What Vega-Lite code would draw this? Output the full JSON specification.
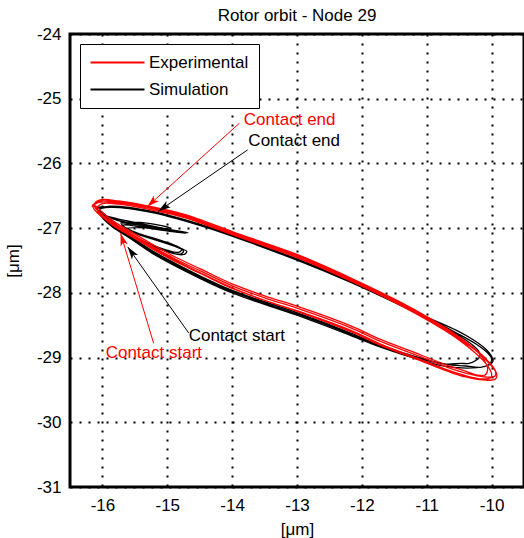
{
 "$schema": "https://vega.github.io/schema/vega-lite/v6.json",
 "width": 454, "height": 453,
 "autosize": {"type": "none"},
 "padding": {"left": 70, "top": 34, "right": 0, "bottom": 51},
 "background": "white",
 "title": {"text": "Rotor orbit - Node 29", "fontSize": 17, "fontWeight": "normal", "font": "Liberation Sans", "color": "black", "offset": 0},
 "config": {
   "font": "Liberation Sans",
   "view": {"stroke": "black", "strokeWidth": 3},
   "axis": {"grid": true, "gridColor": "black", "gridDash": [2, 7], "gridWidth": 2, "gridOpacity": 1, "gridCap": "butt", "domain": false, "ticks": false, "tickSize": 0, "labelFontSize": 17, "labelColor": "black", "titleFontSize": 17, "titleFontWeight": "normal", "titleColor": "black", "labelFont": "Liberation Sans", "titleFont": "Liberation Sans", "labelExpr": "'' + datum.value"}
 },
 "datasets": {
  "orbit": [
   {"s":"Experimental","i":0,"x":-16.15,"y":-26.64},{"s":"Experimental","i":1,"x":-16.03,"y":-26.58},{"s":"Experimental","i":2,"x":-15.75,"y":-26.60},{"s":"Experimental","i":3,"x":-15.23,"y":-26.69},{"s":"Experimental","i":4,"x":-14.72,"y":-26.81},{"s":"Experimental","i":5,"x":-14.49,"y":-26.89},{"s":"Experimental","i":6,"x":-13.98,"y":-27.08},{"s":"Experimental","i":7,"x":-13.49,"y":-27.25},{"s":"Experimental","i":8,"x":-12.99,"y":-27.43},{"s":"Experimental","i":9,"x":-12.17,"y":-27.79},{"s":"Experimental","i":10,"x":-11.45,"y":-28.14},{"s":"Experimental","i":11,"x":-10.94,"y":-28.42},{"s":"Experimental","i":12,"x":-10.54,"y":-28.67},{"s":"Experimental","i":13,"x":-10.24,"y":-28.88},{"s":"Experimental","i":14,"x":-10.04,"y":-29.07},{"s":"Experimental","i":15,"x":-9.94,"y":-29.21},{"s":"Experimental","i":16,"x":-9.95,"y":-29.29},{"s":"Experimental","i":17,"x":-10.09,"y":-29.30},{"s":"Experimental","i":18,"x":-10.40,"y":-29.24},{"s":"Experimental","i":19,"x":-10.68,"y":-29.15},{"s":"Experimental","i":20,"x":-11.09,"y":-28.99},{"s":"Experimental","i":21,"x":-11.71,"y":-28.75},{"s":"Experimental","i":22,"x":-12.17,"y":-28.54},{"s":"Experimental","i":23,"x":-12.99,"y":-28.24},{"s":"Experimental","i":24,"x":-13.49,"y":-28.08},{"s":"Experimental","i":25,"x":-13.98,"y":-27.90},{"s":"Experimental","i":26,"x":-14.49,"y":-27.66},{"s":"Experimental","i":27,"x":-14.87,"y":-27.48},{"s":"Experimental","i":28,"x":-15.23,"y":-27.28},{"s":"Experimental","i":29,"x":-15.57,"y":-27.08},{"s":"Experimental","i":30,"x":-15.85,"y":-26.91},{"s":"Experimental","i":31,"x":-16.03,"y":-26.77},{"s":"Experimental","i":32,"x":-16.12,"y":-26.67},
   {"s":"Experimental","i":33,"x":-16.10,"y":-26.68},{"s":"Experimental","i":34,"x":-16.00,"y":-26.62},{"s":"Experimental","i":35,"x":-15.75,"y":-26.63},{"s":"Experimental","i":36,"x":-15.23,"y":-26.72},{"s":"Experimental","i":37,"x":-14.72,"y":-26.84},{"s":"Experimental","i":38,"x":-14.49,"y":-26.92},{"s":"Experimental","i":39,"x":-13.98,"y":-27.11},{"s":"Experimental","i":40,"x":-13.49,"y":-27.28},{"s":"Experimental","i":41,"x":-12.99,"y":-27.46},{"s":"Experimental","i":42,"x":-12.17,"y":-27.82},{"s":"Experimental","i":43,"x":-11.45,"y":-28.17},{"s":"Experimental","i":44,"x":-10.94,"y":-28.45},{"s":"Experimental","i":45,"x":-10.54,"y":-28.70},{"s":"Experimental","i":46,"x":-10.26,"y":-28.92},{"s":"Experimental","i":47,"x":-10.08,"y":-29.10},{"s":"Experimental","i":48,"x":-10.00,"y":-29.25},{"s":"Experimental","i":49,"x":-10.01,"y":-29.31},{"s":"Experimental","i":50,"x":-10.15,"y":-29.33},{"s":"Experimental","i":51,"x":-10.40,"y":-29.28},{"s":"Experimental","i":52,"x":-10.68,"y":-29.19},{"s":"Experimental","i":53,"x":-11.09,"y":-29.03},{"s":"Experimental","i":54,"x":-11.71,"y":-28.79},{"s":"Experimental","i":55,"x":-12.17,"y":-28.58},{"s":"Experimental","i":56,"x":-12.99,"y":-28.28},{"s":"Experimental","i":57,"x":-13.49,"y":-28.12},{"s":"Experimental","i":58,"x":-13.98,"y":-27.94},{"s":"Experimental","i":59,"x":-14.49,"y":-27.70},{"s":"Experimental","i":60,"x":-14.87,"y":-27.52},{"s":"Experimental","i":61,"x":-15.23,"y":-27.32},{"s":"Experimental","i":62,"x":-15.57,"y":-27.12},{"s":"Experimental","i":63,"x":-15.85,"y":-26.95},{"s":"Experimental","i":64,"x":-16.02,"y":-26.80},{"s":"Experimental","i":65,"x":-16.09,"y":-26.71},
   {"s":"Experimental","i":66,"x":-16.12,"y":-26.62},{"s":"Experimental","i":67,"x":-16.02,"y":-26.56},{"s":"Experimental","i":68,"x":-15.75,"y":-26.58},{"s":"Experimental","i":69,"x":-15.23,"y":-26.67},{"s":"Experimental","i":70,"x":-14.72,"y":-26.79},{"s":"Experimental","i":71,"x":-14.49,"y":-26.87},{"s":"Experimental","i":72,"x":-13.98,"y":-27.06},{"s":"Experimental","i":73,"x":-13.49,"y":-27.23},{"s":"Experimental","i":74,"x":-12.99,"y":-27.41},{"s":"Experimental","i":75,"x":-12.17,"y":-27.77},{"s":"Experimental","i":76,"x":-11.45,"y":-28.12},{"s":"Experimental","i":77,"x":-10.94,"y":-28.40},{"s":"Experimental","i":78,"x":-10.54,"y":-28.65},{"s":"Experimental","i":79,"x":-10.28,"y":-28.85},{"s":"Experimental","i":80,"x":-10.12,"y":-29.03},{"s":"Experimental","i":81,"x":-10.06,"y":-29.18},{"s":"Experimental","i":82,"x":-10.10,"y":-29.27},{"s":"Experimental","i":83,"x":-10.22,"y":-29.27},{"s":"Experimental","i":84,"x":-10.40,"y":-29.21},{"s":"Experimental","i":85,"x":-10.68,"y":-29.12},{"s":"Experimental","i":86,"x":-11.09,"y":-28.96},{"s":"Experimental","i":87,"x":-11.71,"y":-28.72},{"s":"Experimental","i":88,"x":-12.17,"y":-28.51},{"s":"Experimental","i":89,"x":-12.99,"y":-28.21},{"s":"Experimental","i":90,"x":-13.49,"y":-28.05},{"s":"Experimental","i":91,"x":-13.98,"y":-27.87},{"s":"Experimental","i":92,"x":-14.49,"y":-27.63},{"s":"Experimental","i":93,"x":-14.87,"y":-27.45},{"s":"Experimental","i":94,"x":-15.23,"y":-27.25},{"s":"Experimental","i":95,"x":-15.57,"y":-27.05},{"s":"Experimental","i":96,"x":-15.85,"y":-26.88},{"s":"Experimental","i":97,"x":-16.02,"y":-26.74},{"s":"Experimental","i":98,"x":-16.10,"y":-26.66},
   {"s":"Experimental","i":99,"x":-16.16,"y":-26.66},{"s":"Experimental","i":100,"x":-16.05,"y":-26.60},{"s":"Experimental","i":101,"x":-15.75,"y":-26.61},{"s":"Experimental","i":102,"x":-15.23,"y":-26.70},{"s":"Experimental","i":103,"x":-14.72,"y":-26.83},{"s":"Experimental","i":104,"x":-14.49,"y":-26.91},{"s":"Experimental","i":105,"x":-13.98,"y":-27.09},{"s":"Experimental","i":106,"x":-13.49,"y":-27.27},{"s":"Experimental","i":107,"x":-12.99,"y":-27.45},{"s":"Experimental","i":108,"x":-12.17,"y":-27.80},{"s":"Experimental","i":109,"x":-11.45,"y":-28.16},{"s":"Experimental","i":110,"x":-10.94,"y":-28.44},{"s":"Experimental","i":111,"x":-10.54,"y":-28.69},{"s":"Experimental","i":112,"x":-10.22,"y":-28.91},{"s":"Experimental","i":113,"x":-10.02,"y":-29.11},{"s":"Experimental","i":114,"x":-9.92,"y":-29.25},{"s":"Experimental","i":115,"x":-9.94,"y":-29.33},{"s":"Experimental","i":116,"x":-10.08,"y":-29.35},{"s":"Experimental","i":117,"x":-10.40,"y":-29.30},{"s":"Experimental","i":118,"x":-10.68,"y":-29.21},{"s":"Experimental","i":119,"x":-11.09,"y":-29.05},{"s":"Experimental","i":120,"x":-11.71,"y":-28.81},{"s":"Experimental","i":121,"x":-12.17,"y":-28.60},{"s":"Experimental","i":122,"x":-12.99,"y":-28.29},{"s":"Experimental","i":123,"x":-13.49,"y":-28.12},{"s":"Experimental","i":124,"x":-13.98,"y":-27.93},{"s":"Experimental","i":125,"x":-14.49,"y":-27.69},{"s":"Experimental","i":126,"x":-14.87,"y":-27.50},{"s":"Experimental","i":127,"x":-15.23,"y":-27.30},{"s":"Experimental","i":128,"x":-15.57,"y":-27.10},{"s":"Experimental","i":129,"x":-15.85,"y":-26.93},{"s":"Experimental","i":130,"x":-16.05,"y":-26.79},{"s":"Experimental","i":131,"x":-16.14,"y":-26.69},{"s":"Experimental","i":132,"x":-16.15,"y":-26.64},
   {"s":"Simulation","i":0,"x":-16.08,"y":-26.70},{"s":"Simulation","i":1,"x":-15.88,"y":-26.66},{"s":"Simulation","i":2,"x":-15.23,"y":-26.74},{"s":"Simulation","i":3,"x":-14.49,"y":-26.94},{"s":"Simulation","i":4,"x":-13.98,"y":-27.11},{"s":"Simulation","i":5,"x":-12.99,"y":-27.48},{"s":"Simulation","i":6,"x":-12.17,"y":-27.82},{"s":"Simulation","i":7,"x":-11.45,"y":-28.16},{"s":"Simulation","i":8,"x":-10.94,"y":-28.41},{"s":"Simulation","i":9,"x":-10.54,"y":-28.62},{"s":"Simulation","i":10,"x":-10.24,"y":-28.79},{"s":"Simulation","i":11,"x":-10.07,"y":-28.92},{"s":"Simulation","i":12,"x":-10.00,"y":-29.02},{"s":"Simulation","i":13,"x":-10.03,"y":-29.10},{"s":"Simulation","i":14,"x":-10.17,"y":-29.15},{"s":"Simulation","i":15,"x":-10.40,"y":-29.13},{"s":"Simulation","i":16,"x":-10.68,"y":-29.11},{"s":"Simulation","i":17,"x":-11.09,"y":-29.01},{"s":"Simulation","i":18,"x":-11.71,"y":-28.81},{"s":"Simulation","i":19,"x":-12.17,"y":-28.62},{"s":"Simulation","i":20,"x":-12.99,"y":-28.31},{"s":"Simulation","i":21,"x":-13.98,"y":-27.97},{"s":"Simulation","i":22,"x":-14.49,"y":-27.74},{"s":"Simulation","i":23,"x":-15.23,"y":-27.35},{"s":"Simulation","i":24,"x":-15.57,"y":-27.13},{"s":"Simulation","i":25,"x":-15.85,"y":-26.95},{"s":"Simulation","i":26,"x":-16.03,"y":-26.80},{"s":"Simulation","i":27,"x":-15.75,"y":-26.86},{"s":"Simulation","i":28,"x":-14.72,"y":-27.08},{"s":"Simulation","i":29,"x":-15.72,"y":-26.92},{"s":"Simulation","i":30,"x":-15.41,"y":-26.91},{"s":"Simulation","i":31,"x":-14.95,"y":-27.00},{"s":"Simulation","i":32,"x":-15.65,"y":-27.01},{"s":"Simulation","i":33,"x":-14.75,"y":-27.35},{"s":"Simulation","i":34,"x":-14.80,"y":-27.40},{"s":"Simulation","i":35,"x":-15.60,"y":-27.09},{"s":"Simulation","i":36,"x":-16.00,"y":-26.76},
   {"s":"Simulation","i":37,"x":-16.05,"y":-26.72},{"s":"Simulation","i":38,"x":-15.88,"y":-26.68},{"s":"Simulation","i":39,"x":-15.23,"y":-26.76},{"s":"Simulation","i":40,"x":-14.49,"y":-26.96},{"s":"Simulation","i":41,"x":-13.98,"y":-27.13},{"s":"Simulation","i":42,"x":-12.99,"y":-27.50},{"s":"Simulation","i":43,"x":-12.17,"y":-27.84},{"s":"Simulation","i":44,"x":-11.45,"y":-28.17},{"s":"Simulation","i":45,"x":-10.94,"y":-28.40},{"s":"Simulation","i":46,"x":-10.54,"y":-28.58},{"s":"Simulation","i":47,"x":-10.29,"y":-28.72},{"s":"Simulation","i":48,"x":-10.10,"y":-28.86},{"s":"Simulation","i":49,"x":-10.00,"y":-28.98},{"s":"Simulation","i":50,"x":-9.98,"y":-29.06},{"s":"Simulation","i":51,"x":-10.08,"y":-29.13},{"s":"Simulation","i":52,"x":-10.30,"y":-29.16},{"s":"Simulation","i":53,"x":-10.68,"y":-29.14},{"s":"Simulation","i":54,"x":-11.09,"y":-29.04},{"s":"Simulation","i":55,"x":-11.71,"y":-28.84},{"s":"Simulation","i":56,"x":-12.17,"y":-28.66},{"s":"Simulation","i":57,"x":-12.99,"y":-28.35},{"s":"Simulation","i":58,"x":-13.98,"y":-28.01},{"s":"Simulation","i":59,"x":-14.49,"y":-27.78},{"s":"Simulation","i":60,"x":-15.23,"y":-27.39},{"s":"Simulation","i":61,"x":-15.57,"y":-27.16},{"s":"Simulation","i":62,"x":-15.85,"y":-26.98},{"s":"Simulation","i":63,"x":-16.01,"y":-26.82},{"s":"Simulation","i":64,"x":-15.70,"y":-26.90},{"s":"Simulation","i":65,"x":-14.85,"y":-27.05},{"s":"Simulation","i":66,"x":-15.68,"y":-26.96},{"s":"Simulation","i":67,"x":-15.55,"y":-27.04},{"s":"Simulation","i":68,"x":-14.78,"y":-27.32},{"s":"Simulation","i":69,"x":-14.82,"y":-27.37},{"s":"Simulation","i":70,"x":-15.58,"y":-27.10},{"s":"Simulation","i":71,"x":-15.98,"y":-26.78},
   {"s":"Simulation","i":72,"x":-16.10,"y":-26.69},{"s":"Simulation","i":73,"x":-15.88,"y":-26.67},{"s":"Simulation","i":74,"x":-15.23,"y":-26.75},{"s":"Simulation","i":75,"x":-14.49,"y":-26.95},{"s":"Simulation","i":76,"x":-13.98,"y":-27.12},{"s":"Simulation","i":77,"x":-12.99,"y":-27.49},{"s":"Simulation","i":78,"x":-12.17,"y":-27.83},{"s":"Simulation","i":79,"x":-11.45,"y":-28.17},{"s":"Simulation","i":80,"x":-10.94,"y":-28.42},{"s":"Simulation","i":81,"x":-10.54,"y":-28.64},{"s":"Simulation","i":82,"x":-10.30,"y":-28.80},{"s":"Simulation","i":83,"x":-10.20,"y":-28.90},{"s":"Simulation","i":84,"x":-10.18,"y":-28.98},{"s":"Simulation","i":85,"x":-10.25,"y":-29.05},{"s":"Simulation","i":86,"x":-10.35,"y":-29.09},{"s":"Simulation","i":87,"x":-10.48,"y":-29.09},{"s":"Simulation","i":88,"x":-10.70,"y":-29.10},{"s":"Simulation","i":89,"x":-11.09,"y":-29.02},{"s":"Simulation","i":90,"x":-11.71,"y":-28.82},{"s":"Simulation","i":91,"x":-12.17,"y":-28.64},{"s":"Simulation","i":92,"x":-12.99,"y":-28.33},{"s":"Simulation","i":93,"x":-13.98,"y":-27.99},{"s":"Simulation","i":94,"x":-14.49,"y":-27.76},{"s":"Simulation","i":95,"x":-15.23,"y":-27.37},{"s":"Simulation","i":96,"x":-15.57,"y":-27.15},{"s":"Simulation","i":97,"x":-15.85,"y":-26.96},{"s":"Simulation","i":98,"x":-16.04,"y":-26.79},{"s":"Simulation","i":99,"x":-15.76,"y":-26.88},{"s":"Simulation","i":100,"x":-14.68,"y":-27.07},{"s":"Simulation","i":101,"x":-15.70,"y":-26.94},{"s":"Simulation","i":102,"x":-15.62,"y":-27.03},{"s":"Simulation","i":103,"x":-14.70,"y":-27.36},{"s":"Simulation","i":104,"x":-14.76,"y":-27.41},{"s":"Simulation","i":105,"x":-15.62,"y":-27.10},{"s":"Simulation","i":106,"x":-16.06,"y":-26.72}
  ],
  "ann": [
   {"s":"Experimental","x":-13.89,"y":-25.38,"x2":-15.31,"y2":-26.67,"angle":227.6},
   {"s":"Simulation","x":-13.76,"y":-25.79,"x2":-15.14,"y2":-26.74,"angle":235.6},
   {"s":"Simulation","x":-14.67,"y":-28.62,"x2":-15.61,"y2":-27.29,"angle":324.6},
   {"s":"Experimental","x":-15.21,"y":-28.78,"x2":-15.72,"y2":-27.08,"angle":343.3}
  ],
  "lab": [
   {"s":"Experimental","x":-13.82,"y":-25.41,"text":"Contact end"},
   {"s":"Simulation","x":-13.75,"y":-25.73,"text":"Contact end"},
   {"s":"Simulation","x":-14.67,"y":-28.74,"text":"Contact start"},
   {"s":"Experimental","x":-15.95,"y":-29.01,"text":"Contact start"}
  ]
 },
 "layer": [
  {
   "data": {"name": "orbit"},
   "transform": [{"filter": "datum.s == 'Simulation'"}],
   "mark": {"type": "line", "strokeWidth": 1.3, "interpolate": "catmull-rom"},
   "encoding": {
    "x": {"field": "x", "type": "quantitative", "title": "[μm]", "scale": {"domain": [-16.5, -9.5], "nice": false, "zero": false}, "axis": {"values": [-16, -15, -14, -13, -12, -11, -10], "labelPadding": 10, "titlePadding": 8}},
    "y": {"field": "y", "type": "quantitative", "title": "[μm]", "scale": {"domain": [-31, -24], "nice": false, "zero": false}, "axis": {"values": [-31, -30, -29, -28, -27, -26, -25, -24], "labelPadding": 9, "titlePadding": 14}},
    "order": {"field": "i", "type": "quantitative"},
    "color": {"field": "s", "type": "nominal", "scale": {"domain": ["Experimental", "Simulation"], "range": ["#ff0000", "#000000"]},
     "legend": {"title": null, "orient": "top-left", "offset": 10, "symbolType": "M-5.4,0L5.4,0", "symbolSize": 100, "symbolStrokeWidth": 2, "symbolOffset": 19, "labelOffset": 23, "labelFontSize": 17, "labelColor": "black", "padding": 10, "strokeColor": "black", "fillColor": "white", "rowPadding": 9}}
   }
  },
  {
   "data": {"name": "orbit"},
   "transform": [{"filter": "datum.s == 'Experimental'"}],
   "mark": {"type": "line", "strokeWidth": 1.3, "interpolate": "catmull-rom"},
   "encoding": {
    "x": {"field": "x", "type": "quantitative", "title": "[μm]"},
    "y": {"field": "y", "type": "quantitative", "title": "[μm]"},
    "order": {"field": "i", "type": "quantitative"},
    "color": {"field": "s", "type": "nominal"}
   }
  },
  {
   "data": {"name": "ann"},
   "mark": {"type": "rule", "strokeWidth": 1},
   "encoding": {
    "x": {"field": "x", "type": "quantitative", "title": "[μm]"},
    "y": {"field": "y", "type": "quantitative", "title": "[μm]"},
    "x2": {"field": "x2"},
    "y2": {"field": "y2"},
    "stroke": {"field": "s", "type": "nominal", "scale": {"domain": ["Experimental", "Simulation"], "range": ["#ff0000", "#000000"]}, "legend": null}
   }
  },
  {
   "data": {"name": "ann"},
   "mark": {"type": "point", "shape": "M0,0L-0.6,2L0,1.5L0.6,2Z", "filled": true, "size": 160, "opacity": 1, "strokeWidth": 0},
   "encoding": {
    "x": {"field": "x2", "type": "quantitative", "title": "[μm]"},
    "y": {"field": "y2", "type": "quantitative", "title": "[μm]"},
    "angle": {"field": "angle", "type": "quantitative", "scale": null},
    "fill": {"field": "s", "type": "nominal", "scale": {"domain": ["Experimental", "Simulation"], "range": ["#ff0000", "#000000"]}, "legend": null}
   }
  },
  {
   "data": {"name": "lab"},
   "mark": {"type": "text", "align": "left", "baseline": "alphabetic", "fontSize": 17},
   "encoding": {
    "x": {"field": "x", "type": "quantitative", "title": "[μm]"},
    "y": {"field": "y", "type": "quantitative", "title": "[μm]"},
    "text": {"field": "text"},
    "fill": {"field": "s", "type": "nominal", "legend": null}
   }
  }
 ]
}
